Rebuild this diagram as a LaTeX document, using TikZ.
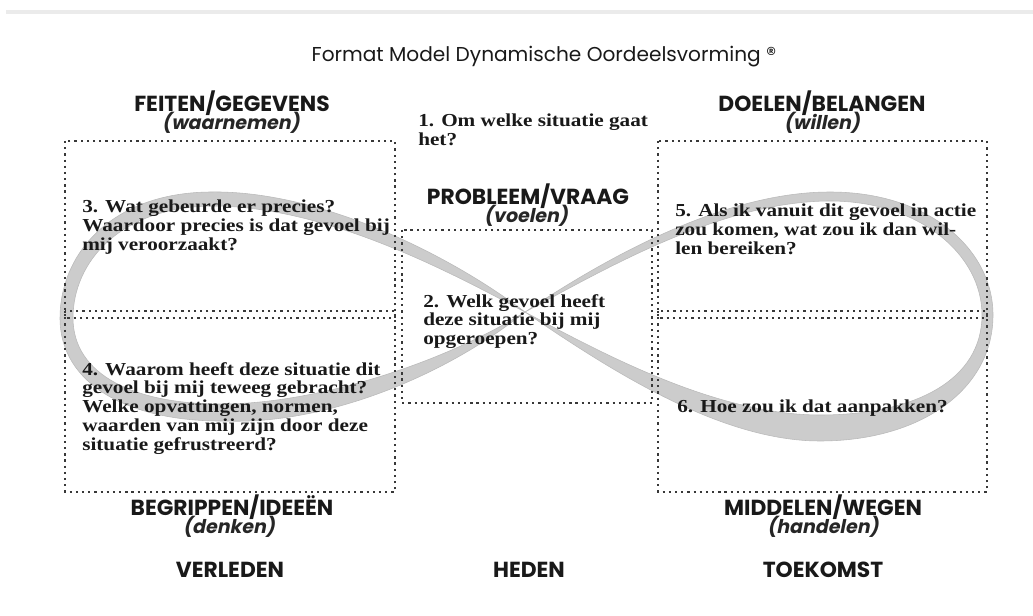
\documentclass[tikz,border=0pt]{standalone}
\usepackage{fontspec}
\setmainfont{Liberation Serif}[FakeStretch=1.16]
\newfontfamily\hdrfont{Poppins}
\newfontfamily\hdrslant{Poppins}[FakeSlant=0.2]
\tikzset{
	dotframe/.style={draw=black!78, line width=2pt, dash pattern=on 1.6pt off 2.8pt},
	ribbon/.style={fill=black!20, draw=black!27, line width=0.4pt, even odd rule},
	question/.style={anchor=north west, inner sep=0pt, align=left, text=black!90, font=\fontsize{13}{13.4}\selectfont\bfseries},
	heading/.style={anchor=base, inner sep=0pt, text=black!90, font=\hdrfont\fontsize{15.5}{17}\selectfont\bfseries},
	subheading/.style={anchor=base, inner sep=0pt, text=black!85, font=\hdrslant\fontsize{13.5}{15}\selectfont\bfseries},
}

\begin{document}
\begin{tikzpicture}[x=0.025cm, y=-0.025cm]
	\useasboundingbox (0,0) rectangle (1033,616);
	\draw[black!8, line width=2.2pt] (6,12) -- (1033,12);
	% the infinity ribbon
	\path[ribbon] (525,312) .. controls (450,255) and (320,190) .. (210,192)
		.. controls (110,193) and (60,255) .. (60,318)
		.. controls (60,385) and (130,422) .. (225,421)
		.. controls (320,425) and (440,380) .. (525,312)
		(525,312) .. controls (455,275) and (330,207) .. (215,206)
		.. controls (120,206) and (73,262) .. (73,318)
		.. controls (73,375) and (135,405) .. (225,404)
		.. controls (320,403) and (445,362) .. (525,312);
	\path[ribbon] (525,312) .. controls (600,262) and (720,192) .. (830,192)
		.. controls (930,192) and (993,250) .. (993,315)
		.. controls (993,390) and (920,441) .. (820,441)
		.. controls (720,441) and (610,370) .. (525,312)
		(525,312) .. controls (600,272) and (720,201) .. (830,201)
		.. controls (920,201) and (982,255) .. (982,315)
		.. controls (982,380) and (915,415) .. (820,415)
		.. controls (720,415) and (610,358) .. (525,312);
	% dotted boxes
	\draw[dotframe] (65,141) rectangle (395,318);
	\draw[dotframe] (65,311) rectangle (395,492);
	\draw[dotframe] (402,230) rectangle (652,403);
	\draw[dotframe] (658,141) rectangle (987,318);
	\draw[dotframe] (658,311) rectangle (987,492);
	% title
	\node[anchor=base, inner sep=0pt, text=black!90, font=\hdrfont\fontsize{14.3}{16}\selectfont] (title) at (544,62) {Format Model Dynamische Oordeelsvorming ®};
	% headings
	\node[heading] (feiten) at (232,112) {FEITEN/GEGEVENS};
	\node[subheading] (waarnemen) at (231,130) {(waarnemen)};
	\node[heading] (doelen) at (822,112) {DOELEN/BELANGEN};
	\node[subheading] (willen) at (822,130) {(willen)};
	\node[heading] (probleem) at (528,205) {PROBLEEM/VRAAG};
	\node[subheading] (voelen) at (526,223) {(voelen)};
	\node[heading] (begrippen) at (232,515) {BEGRIPPEN/IDEEËN};
	\node[subheading] (denken) at (229,533) {(denken)};
	\node[heading] (middelen) at (823,515) {MIDDELEN/WEGEN};
	\node[subheading] (handelen) at (823,533) {(handelen)};
	\node[heading] (verleden) at (230,577) {VERLEDEN};
	\node[heading] (heden) at (529,577) {HEDEN};
	\node[heading] (toekomst) at (823,577) {TOEKOMST};
	% questions
	\node[question] (q1) at (418,114) {1. Om welke situatie gaat\\het?};
	\node[question] (q2) at (423,294) {2. Welk gevoel heeft\\deze situatie bij mij\\opgeroepen?};
	\node[question] (q3) at (82,200) {3. Wat gebeurde er precies?\\Waardoor precies is dat gevoel bij\\mij veroorzaakt?};
	\node[question] (q4) at (82,362) {4. Waarom heeft deze situatie dit\\gevoel bij mij teweeg gebracht?\\Welke opvattingen, normen,\\waarden van mij zijn door deze\\situatie gefrustreerd?};
	\node[question] (q5) at (675,204) {5. Als ik vanuit dit gevoel in actie\\zou komen, wat zou ik dan wil-\\len bereiken?};
	\node[question] (q6) at (677,400) {6. Hoe zou ik dat aanpakken?};
\end{tikzpicture}
\end{document}
